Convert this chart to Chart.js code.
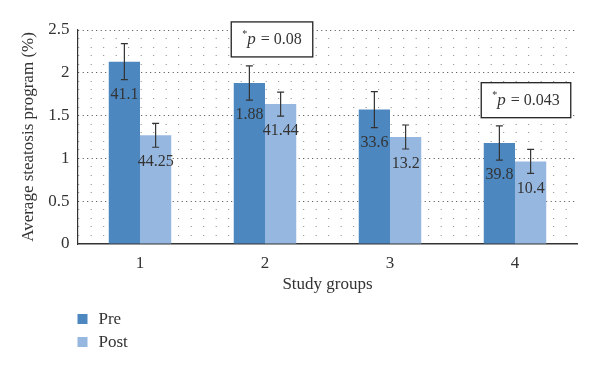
<!DOCTYPE html>
<html>
<head>
<meta charset="utf-8">
<script src="https://cdn.jsdelivr.net/npm/chart.js@4.4.0/dist/chart.umd.min.js"></script>
<style>
    html, body { margin: 0; padding: 0; background: #fff; }
</style>
</head>
<body>
<canvas id="grafico" width="600" height="369"></canvas>
<script>
const grupos = ['1', '2', '3', '4'];
const valoresPre = [2.13, 1.88, 1.57, 1.18];
const valoresPost = [1.27, 1.635, 1.25, 0.965];
const errorPre = [0.21, 0.20, 0.21, 0.20];
const errorPost = [0.14, 0.14, 0.14, 0.14];
const etiquetasPre = ['41.1', '1.88', '33.6', '39.8'];
const etiquetasPost = ['44.25', '41.44', '13.2', '10.4'];
const anotaciones = [
    { grupo: 1, valor: 2.39, texto: '0.08', dx: 7 },
    { grupo: 3, valor: 1.68, texto: '0.043', dx: 11 }
];

const fuente = "'Liberation Serif', 'DejaVu Serif', serif";
const colorTexto = '#333';

// barras de error
const pluginErrores = {
    id: 'errores',
    afterDatasetsDraw(chart) {
        const ctx = chart.ctx;
        const y = chart.scales.y;
        chart.data.datasets.forEach((ds, i) => {
            const meta = chart.getDatasetMeta(i);
            meta.data.forEach((bar, j) => {
                const v = ds.data[j], e = ds.errores[j];
                const y1 = y.getPixelForValue(v + e);
                const y2 = y.getPixelForValue(v - e);
                ctx.save();
                ctx.strokeStyle = '#333';
                ctx.lineWidth = 1.2;
                ctx.beginPath();
                ctx.moveTo(bar.x, y1); ctx.lineTo(bar.x, y2);
                ctx.moveTo(bar.x - 3.5, y1); ctx.lineTo(bar.x + 3.5, y1);
                ctx.moveTo(bar.x - 3.5, y2); ctx.lineTo(bar.x + 3.5, y2);
                ctx.stroke();
                ctx.restore();
            });
        });
    }
};

// etiquetas dentro de las barras
const pluginEtiquetas = {
    id: 'etiquetas',
    afterDatasetsDraw(chart) {
        const ctx = chart.ctx;
        const y = chart.scales.y;
        chart.data.datasets.forEach((ds, i) => {
            const meta = chart.getDatasetMeta(i);
            meta.data.forEach((bar, j) => {
                const py = y.getPixelForValue(ds.data[j] - ds.errores[j]) + 15;
                ctx.save();
                ctx.font = '16px ' + fuente;
                ctx.fillStyle = colorTexto;
                ctx.textAlign = 'center';
                ctx.textBaseline = 'middle';
                ctx.fillText(ds.etiquetas[j], bar.x, py);
                ctx.restore();
            });
        });
    }
};

// cajas con el valor p
const pluginAnotaciones = {
    id: 'anotaciones',
    afterDraw(chart) {
        const ctx = chart.ctx;
        const x = chart.scales.x, y = chart.scales.y;
        anotaciones.forEach(a => {
            const cx = x.getPixelForValue(a.grupo) + a.dx;
            const cy = y.getPixelForValue(a.valor);
            ctx.save();
            ctx.font = '10px ' + fuente;
            const wAst = ctx.measureText('*').width;
            ctx.font = 'italic 17px ' + fuente;
            const wP = ctx.measureText('p').width;
            ctx.font = '16px ' + fuente;
            const resto = ' = ' + a.texto;
            const wR = ctx.measureText(resto).width;
            const total = wAst + wP + 1 + wR;
            const w = total + 22, h = 35;
            ctx.fillStyle = '#fff';
            ctx.fillRect(cx - w / 2, cy - h / 2, w, h);
            ctx.strokeStyle = '#222';
            ctx.lineWidth = 1.3;
            ctx.strokeRect(cx - w / 2, cy - h / 2, w, h);
            let px = cx - total / 2;
            ctx.fillStyle = colorTexto;
            ctx.textBaseline = 'alphabetic';
            ctx.font = '10px ' + fuente;
            ctx.fillText('*', px, cy - 2);
            px += wAst;
            ctx.font = 'italic 17px ' + fuente;
            ctx.fillText('p', px, cy + 5);
            px += wP + 1;
            ctx.font = '16px ' + fuente;
            ctx.fillText(resto, px, cy + 5);
            ctx.restore();
        });
    }
};

// leyenda vertical abajo a la izquierda
const pluginLeyenda = {
    id: 'leyendaVertical',
    afterDraw(chart) {
        const ctx = chart.ctx;
        const left = chart.chartArea.left;
        const base = chart.chartArea.bottom + 75;
        chart.data.datasets.forEach((ds, i) => {
            const cy = base + i * 23;
            ctx.save();
            ctx.fillStyle = ds.backgroundColor;
            ctx.fillRect(left, cy - 5, 10, 10);
            ctx.font = '17px ' + fuente;
            ctx.fillStyle = colorTexto;
            ctx.textBaseline = 'middle';
            ctx.fillText(ds.label, left + 21, cy + 1);
            ctx.restore();
        });
    }
};

new Chart(document.getElementById('grafico'), {
    type: 'bar',
    data: {
        labels: grupos,
        datasets: [
            {
                label: 'Pre',
                data: valoresPre,
                errores: errorPre,
                etiquetas: etiquetasPre,
                backgroundColor: 'rgb(77, 135, 192)',
                borderWidth: 0,
                categoryPercentage: 0.5,
                barPercentage: 1
            },
            {
                label: 'Post',
                data: valoresPost,
                errores: errorPost,
                etiquetas: etiquetasPost,
                backgroundColor: 'rgb(150, 184, 224)',
                borderWidth: 0,
                categoryPercentage: 0.5,
                barPercentage: 1
            }
        ]
    },
    options: {
        responsive: false,
        animation: false,
        layout: { padding: { top: 30, right: 22.5, left: 0, bottom: 70 } },
        plugins: {
            legend: { display: false },
            tooltip: { enabled: false }
        },
        scales: {
            x: {
                afterFit: s => { s.height = 55; },
                grid: { display: false, drawTicks: false },
                border: { display: true, color: '#333', width: 1.5 },
                ticks: { padding: 9, color: colorTexto, font: { family: fuente, size: 17 } },
                title: {
                    display: true,
                    text: 'Study groups',
                    color: colorTexto,
                    font: { family: fuente, size: 17 },
                    padding: { top: 0, bottom: 4 }
                }
            },
            y: {
                min: 0,
                max: 2.5,
                afterFit: s => { s.width = 77.5; },
                ticks: {
                    stepSize: 0.1,
                    autoSkip: false,
                    padding: 8,
                    color: colorTexto,
                    font: { family: fuente, size: 17 },
                    callback: v => (Math.round(v * 10) % 5 === 0 ? String(Math.round(v * 10) / 10) : '')
                },
                grid: {
                    drawTicks: false,
                    lineWidth: 1,
                    color: c => (c.index === 0 ? 'rgba(0,0,0,0)' : (c.index % 5 === 0 ? '#444' : '#888'))
                },
                border: {
                    display: true,
                    color: '#333',
                    width: 1.2,
                    dash: c => (c.index % 5 === 0 ? [1, 3.5] : [1, 11.5])
                },
                title: {
                    display: true,
                    text: 'Average steatosis program (%)',
                    color: colorTexto,
                    font: { family: fuente, size: 17 },
                    padding: { top: 18, bottom: 0 }
                }
            }
        }
    },
    plugins: [pluginErrores, pluginEtiquetas, pluginAnotaciones, pluginLeyenda]
});
</script>
</body>
</html>
